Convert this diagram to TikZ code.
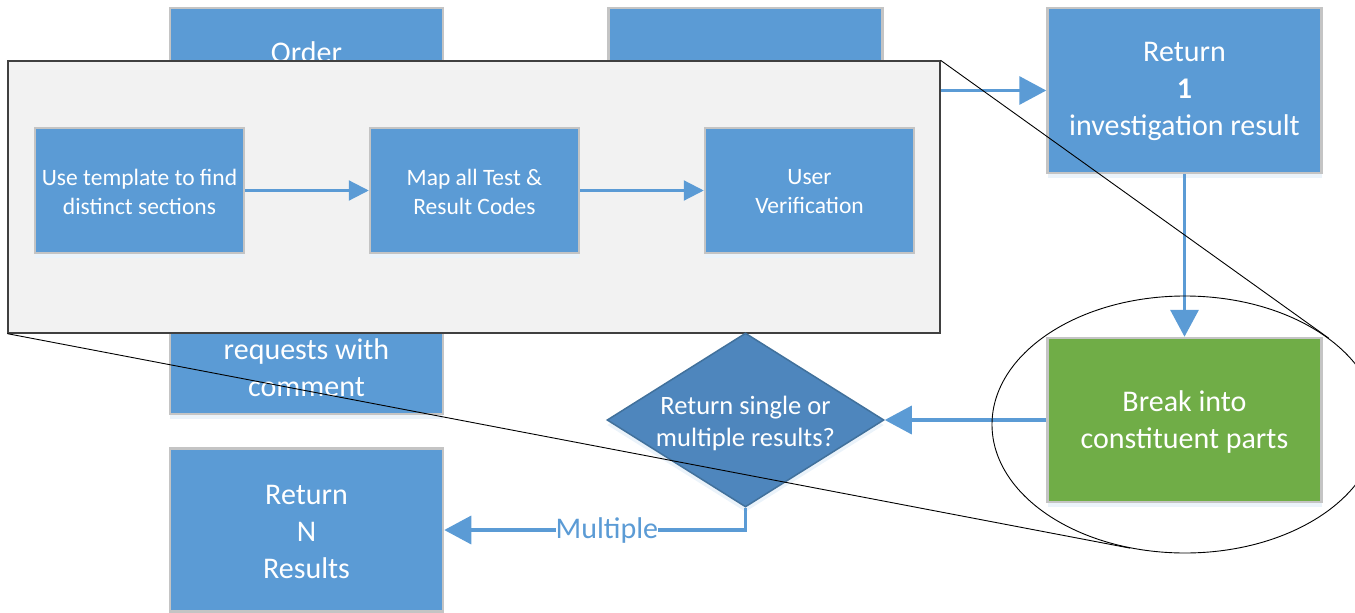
\documentclass[tikz,border=0pt]{standalone}
\usepackage{fontspec}
\setmainfont{Carlito}
\usetikzlibrary{arrows.meta,shapes.geometric,shadows}
\definecolor{boxblue}{HTML}{5B9BD5}
\definecolor{boxborder}{HTML}{C4C4C4}
\definecolor{diablue}{HTML}{4E86BD}
\definecolor{diaborder}{HTML}{41719C}
\definecolor{boxgreen}{HTML}{70AD47}
\definecolor{zoomfill}{HTML}{F2F2F2}
\definecolor{zoomedge}{HTML}{404040}
\tikzset{
  bigtxt/.style={font=\fontsize{30}{37}\selectfont, text=white, align=center},
  smalltxt/.style={font=\fontsize{23.5}{29}\selectfont, text=white, align=center},
  diatxt/.style={font=\fontsize{26.5}{32}\selectfont, text=white, align=center},
  softshadow/.style={drop shadow={shadow xshift=0pt, shadow yshift=-5pt, fill=boxblue!12, draw=none, opacity=1}},
  box/.style={draw=boxborder, line width=2.5pt, fill=boxblue, inner sep=0pt, softshadow},
  gbox/.style={box, fill=boxgreen},
  dbox/.style={diamond, draw=diaborder, line width=1.5pt, fill=diablue, inner sep=0pt, softshadow},
  arr/.style={draw=boxblue, line width=3.5pt, -{Triangle[length=27pt,width=28pt]}},
  sarr/.style={draw=boxblue, line width=2.2pt, -{Triangle[length=20pt,width=20pt]}},
  zoomline/.style={draw=black, line width=0.9pt},
  lbl/.style={font=\fontsize{30}{37}\selectfont, text=boxblue, fill=white, inner sep=0pt}
}
\begin{document}
\begin{tikzpicture}[x=1pt,y=-1pt]
\useasboundingbox (0,0) rectangle (1355,613);
% background layer boxes
\node[box, minimum width=273pt, minimum height=406pt] (ord) at (306.5,211) {};
\node[bigtxt] (ordtop) at (306.5,52) {Order};
\node[bigtxt] (ordbot) at (306.5,368) {requests with\\comment};
\node[box, minimum width=274pt, minimum height=165pt] (b2) at (745.5,90.5) {};
\node[box, minimum width=274pt, minimum height=165pt] (r1) at (1184.5,90.5) {};
\node[bigtxt] (r1txt) at (1184.5,91.5) {Return\\\textbf{1}\\investigation result};
\draw[arr] (b2.east) -- (r1.west);
% zoom rectangle
\node[draw=zoomedge, line width=1.3pt, fill=zoomfill, minimum width=932pt, minimum height=272pt, inner sep=0pt] (gray) at (474,197) {};
\node[box, minimum width=209pt, minimum height=125pt] (s1) at (139.5,190.5) {};
\node[smalltxt] (s1txt) at (139.5,192) {Use template to find\\distinct sections};
\node[box, minimum width=209pt, minimum height=125pt] (s2) at (474.5,190.5) {};
\node[smalltxt] (s2txt) at (474.5,192) {Map all Test \&\\Result Codes};
\node[box, minimum width=209pt, minimum height=125pt] (s3) at (809.5,190.5) {};
\node[smalltxt] (s3txt) at (809.5,192) {User\\Verification};
\draw[sarr] (s1.east) -- (s2.west);
\draw[sarr] (s2.east) -- (s3.west);
% lower part
\node[gbox, minimum width=274pt, minimum height=164pt] (green) at (1184.5,420) {};
\node[bigtxt] (greentxt) at (1184.5,422) {Break into\\constituent parts};
\node[dbox, minimum width=277pt, minimum height=174pt] (dia) at (745.5,420) {};
\node[diatxt] (diatxt) at (745.5,423) {Return single or\\multiple results?};
\node[box, minimum width=273pt, minimum height=163pt] (rn) at (306.5,530) {};
\node[bigtxt] (rntxt) at (306.5,532) {Return\\N\\Results};
\draw[arr] (r1.south) -- (green.north);
\draw[arr] (green.west) -- (dia.east);
\draw[arr] (dia.south) |- (rn.east) node[lbl, pos=0.73] (multi) {Multiple};
% zoom ellipse and lines
\node[ellipse, zoomline, minimum width=386pt, minimum height=257pt, inner sep=0pt] (zoom) at (1185,424.5) {};
\draw[zoomline] (gray.north east) -- (zoom.31.8);
\draw[zoomline] (gray.south west) -- (zoom.246.6);
\end{tikzpicture}
\end{document}
